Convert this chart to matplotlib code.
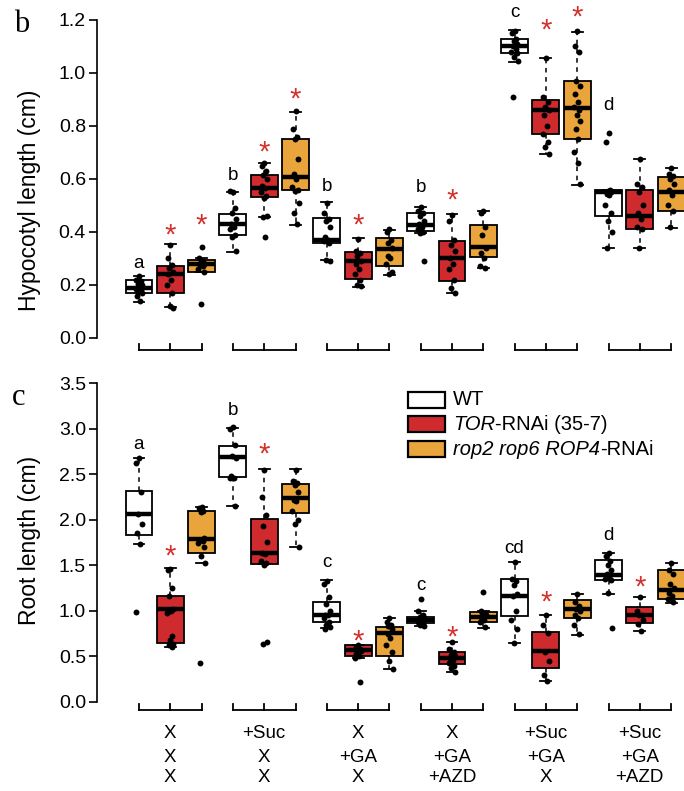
import matplotlib
matplotlib.use("Agg")
import matplotlib.pyplot as plt
from matplotlib.patches import Rectangle

plt.rcParams['font.family'] = ['Liberation Sans', 'DejaVu Sans']

# --- data -------------------------------------------------------------
# legend labels as (text, style) pieces: italic gene names, upright suffix
genotype_parts = [[('WT', 'normal')],
                  [('TOR', 'italic'), ('-RNAi (35-7)', 'normal')],
                  [('rop2 rop6 ROP4', 'italic'), ('-RNAi', 'normal')]]
geno_colors = ['white', '#cf2a2e', '#e9a43c']
treat_rows = [['X', 'X', 'X'], ['+Suc', 'X', 'X'], ['X', '+GA', 'X'],
              ['X', '+GA', '+AZD'], ['+Suc', '+GA', 'X'], ['+Suc', '+GA', '+AZD']]

# hypocotyl (panel b), 18 boxes: 6 treatments x 3 genotypes
hyp_q1 = [0.169, 0.171, 0.25, 0.389, 0.531, 0.558, 0.36, 0.221, 0.273,
          0.404, 0.215, 0.304, 1.074, 0.769, 0.75, 0.46, 0.41, 0.48]
hyp_med = [0.187, 0.24, 0.278, 0.43, 0.565, 0.606, 0.37, 0.29, 0.336,
           0.426, 0.30, 0.345, 1.10, 0.86, 0.867, 0.552, 0.46, 0.552]
hyp_q3 = [0.219, 0.273, 0.294, 0.468, 0.615, 0.751, 0.454, 0.326, 0.379,
          0.473, 0.366, 0.426, 1.127, 0.898, 0.97, 0.558, 0.558, 0.606]
hyp_lo = [0.137, 0.116, 0.25, 0.326, 0.458, 0.426, 0.294, 0.194, 0.238,
          0.395, 0.169, 0.263, 1.043, 0.694, 0.577, 0.338, 0.338, 0.416]
hyp_hi = [0.235, 0.353, 0.30, 0.55, 0.659, 0.854, 0.514, 0.376, 0.408,
          0.496, 0.467, 0.48, 1.162, 1.055, 1.156, 0.558, 0.674, 0.64]
hyp_pts = [
    [0.235, 0.22, 0.215, 0.205, 0.2, 0.19, 0.185, 0.185, 0.18, 0.175, 0.17, 0.16, 0.14],
    [0.35, 0.30, 0.275, 0.265, 0.25, 0.24, 0.22, 0.2, 0.17, 0.12, 0.115],
    [0.345, 0.30, 0.29, 0.285, 0.28, 0.275, 0.27, 0.26, 0.25, 0.13],
    [0.55, 0.555, 0.49, 0.47, 0.45, 0.43, 0.42, 0.41, 0.39, 0.38, 0.33],
    [0.66, 0.65, 0.63, 0.615, 0.6, 0.575, 0.565, 0.55, 0.535, 0.53, 0.46, 0.455, 0.38],
    [0.855, 0.79, 0.76, 0.75, 0.675, 0.62, 0.6, 0.57, 0.56, 0.555, 0.51, 0.47, 0.43],
    [0.51, 0.47, 0.45, 0.44, 0.42, 0.38, 0.37, 0.365, 0.36, 0.295, 0.29],
    [0.375, 0.33, 0.32, 0.31, 0.29, 0.28, 0.26, 0.24, 0.22, 0.2, 0.195],
    [0.41, 0.40, 0.37, 0.36, 0.34, 0.31, 0.30, 0.28, 0.25, 0.24],
    [0.495, 0.48, 0.47, 0.46, 0.44, 0.43, 0.42, 0.41, 0.40, 0.395, 0.29],
    [0.465, 0.44, 0.37, 0.35, 0.33, 0.30, 0.28, 0.26, 0.22, 0.19, 0.17],
    [0.48, 0.47, 0.42, 0.39, 0.34, 0.32, 0.30, 0.27, 0.265],
    [1.16, 1.15, 1.13, 1.12, 1.11, 1.10, 1.09, 1.08, 1.075, 1.06, 1.045, 0.91],
    [1.055, 0.91, 0.89, 0.87, 0.86, 0.84, 0.8, 0.77, 0.74, 0.72, 0.695],
    [1.16, 1.10, 1.08, 0.97, 0.95, 0.92, 0.89, 0.87, 0.86, 0.84, 0.82, 0.79, 0.75, 0.70, 0.66, 0.58],
    [0.775, 0.74, 0.56, 0.555, 0.55, 0.545, 0.54, 0.5, 0.47, 0.44, 0.40, 0.34],
    [0.675, 0.58, 0.57, 0.55, 0.5, 0.47, 0.45, 0.42, 0.41, 0.34],
    [0.64, 0.62, 0.61, 0.6, 0.58, 0.56, 0.54, 0.5, 0.48, 0.42],
]
hyp_letter_box = [0, 3, 6, 9, 12, 15]
hyp_letters = ['a', 'b', 'b', 'b', 'c', 'd']
hyp_letter_y = [0.263, 0.596, 0.556, 0.55, 1.21, 0.86]
hyp_star_box = [1, 2, 4, 5, 7, 10, 13, 14]
hyp_star_y = [0.423, 0.458, 0.735, 0.936, 0.46, 0.555, 1.194, 1.244]

# root (panel c)
root_q1 = [1.832, 0.644, 1.631, 2.465, 1.51, 2.07, 0.88, 0.505, 0.505,
           0.87, 0.417, 0.88, 0.944, 0.369, 0.918, 1.339, 0.863, 1.127]
root_med = [2.059, 1.017, 1.785, 2.685, 1.639, 2.235, 0.955, 0.57, 0.753,
            0.90, 0.486, 0.93, 1.163, 0.56, 1.017, 1.394, 0.955, 1.229]
root_q3 = [2.319, 1.163, 2.096, 2.809, 2.004, 2.388, 1.10, 0.625, 0.827,
           0.93, 0.552, 0.99, 1.346, 0.772, 1.119, 1.558, 1.046, 1.448]
root_lo = [1.734, 0.6, 1.52, 2.15, 1.51, 1.704, 0.81, 0.48, 0.358,
           0.83, 0.333, 0.81, 0.651, 0.234, 0.735, 1.19, 0.783, 1.083]
root_hi = [2.681, 1.467, 2.14, 3.003, 2.553, 2.553, 1.34, 0.625, 0.918,
           1.0, 0.662, 1.0, 1.54, 0.955, 1.19, 1.639, 1.148, 1.522]
root_pts = [
    [2.68, 2.62, 2.3, 2.06, 1.95, 1.85, 1.73, 0.99],
    [1.46, 1.45, 1.25, 1.16, 1.02, 1.01, 1.0, 0.98, 0.72, 0.68, 0.64, 0.62, 0.6],
    [2.14, 2.13, 2.1, 2.08, 1.8, 1.78, 1.77, 1.75, 1.7, 1.6, 1.52, 0.43],
    [3.02, 3.0, 2.82, 2.7, 2.68, 2.48, 2.46, 2.46, 2.15],
    [2.55, 2.25, 2.05, 1.93, 1.76, 1.64, 1.62, 1.55, 1.52, 1.5, 0.66, 0.64],
    [2.55, 2.42, 2.4, 2.38, 2.3, 2.22, 2.2, 2.1, 2.0, 1.95, 1.7],
    [1.33, 1.3, 1.15, 1.08, 1.0, 0.96, 0.95, 0.92, 0.88, 0.85, 0.82, 0.8],
    [0.62, 0.6, 0.58, 0.57, 0.56, 0.53, 0.5, 0.48, 0.22],
    [0.92, 0.88, 0.85, 0.83, 0.8, 0.75, 0.7, 0.62, 0.55, 0.45, 0.36],
    [1.13, 1.0, 0.95, 0.93, 0.92, 0.9, 0.89, 0.88, 0.87, 0.85, 0.83],
    [0.66, 0.58, 0.55, 0.52, 0.5, 0.48, 0.46, 0.43, 0.4, 0.37, 0.33],
    [1.21, 1.0, 0.98, 0.96, 0.95, 0.93, 0.9, 0.88, 0.82],
    [1.54, 1.35, 1.33, 1.28, 1.18, 1.16, 1.0, 0.9, 0.8, 0.65],
    [0.95, 0.85, 0.76, 0.55, 0.45, 0.3, 0.23],
    [1.19, 1.1, 1.05, 1.02, 1.0, 0.95, 0.92, 0.85, 0.75],
    [1.64, 1.6, 1.55, 1.5, 1.45, 1.4, 1.37, 1.35, 1.34, 1.2, 0.81],
    [1.15, 1.0, 0.96, 0.95, 0.9, 0.86, 0.78],
    [1.52, 1.45, 1.4, 1.3, 1.25, 1.2, 1.16, 1.13, 1.1],
]
root_letter_box = [0, 3, 6, 9, 12, 15]
root_letters = ['a', 'b', 'c', 'c', 'cd', 'd']
root_letter_y = [2.78, 3.15, 1.485, 1.229, 1.631, 1.778]
root_star_box = [1, 4, 7, 10, 13, 16]
root_star_y = [1.70, 2.82, 0.77, 0.808, 1.19, 1.357]

jitter = [0.0, -0.08, 0.06, -0.03, 0.09, -0.06, 0.03, -0.1, 0.07, -0.02, 0.1, -0.05, 0.04, -0.09, 0.02, 0.08]

# --- drawing ----------------------------------------------------------
W, H = 684, 791
fig = plt.figure(figsize=(W / 100, H / 100), dpi=100)
positions = list(range(1, 19))
x_left = 1 - 42 / 31.3
x_right = 1 + 545 / 31.3


def fig_rect(top_px, bottom_px):
    return [97 / W, 1 - bottom_px / H, 1 - 97 / W, (bottom_px - top_px) / H]


def panel(ax, q1, med, q3, lo, hi, pts, ymax, step,
          let_box, lets, let_y, star_box, star_y, br_y, br_top):
    stats = [dict(q1=a, med=m, q3=b, whislo=l, whishi=h, fliers=[])
             for a, m, b, l, h in zip(q1, med, q3, lo, hi)]
    bp = ax.bxp(stats, positions=positions, widths=0.86, patch_artist=True,
                showfliers=False, capwidths=0.35,
                boxprops=dict(edgecolor='black', linewidth=1.3),
                medianprops=dict(color='black', linewidth=3.2, solid_capstyle='butt'),
                whiskerprops=dict(color='black', linewidth=1.1, linestyle=(0, (3, 3))),
                capprops=dict(color='black', linewidth=1.3))
    for i, box in enumerate(bp['boxes']):
        box.set_facecolor(geno_colors[i % 3])
    for i, vals in enumerate(pts):
        xs = [positions[i] + jitter[k % len(jitter)] for k in range(len(vals))]
        ax.scatter(xs, vals, s=18, color='black', zorder=5, linewidths=0)
    for b, t, y in zip(let_box, lets, let_y):
        ax.text(positions[b], y, t, ha='center', va='baseline', fontsize=13.5)
    for b, y in zip(star_box, star_y):
        ax.annotate('*', (positions[b], y), xytext=(0, -12.5), textcoords='offset points',
                    ha='center', va='baseline', fontsize=21, color='#d3302c')
    for g in range(6):
        a, c = positions[3 * g], positions[3 * g + 2]
        ax.plot([a, c], [br_y, br_y], color='black', lw=1.3, clip_on=False)
        for p in (a, a + 1, c):
            ax.plot([p, p], [br_y, br_top], color='black', lw=1.3, clip_on=False)
    ax.set_xlim(x_left, x_right)
    for s in ('top', 'right', 'bottom'):
        ax.spines[s].set_visible(False)
    ax.spines['left'].set_bounds(0, ymax)
    ax.spines['left'].set_linewidth(1.2)
    ticks = [round(k * step, 2) for k in range(int(round(ymax / step)) + 1)]
    ax.set_yticks(ticks)
    ax.set_yticklabels([f'{t:.1f}' for t in ticks])
    ax.tick_params(axis='y', length=6, width=1.2, labelsize=14, pad=2)
    ax.set_xticks([])


ax_b = fig.add_axes(fig_rect(5, 355))
panel(ax_b, hyp_q1, hyp_med, hyp_q3, hyp_lo, hyp_hi, hyp_pts, 1.2, 0.2,
      hyp_letter_box, hyp_letters, hyp_letter_y,
      hyp_star_box, hyp_star_y, -0.0453, -0.0226)
ax_b.set_ylim((338 - 355) / 265, (338 - 5) / 265)

ax_c = fig.add_axes(fig_rect(370, 715))
panel(ax_c, root_q1, root_med, root_q3, root_lo, root_hi, root_pts, 3.5, 0.5,
      root_letter_box, root_letters, root_letter_y,
      root_star_box, root_star_y, -0.0878, -0.022)
ax_c.set_ylim((702 - 715) / 91.14, (702 - 370) / 91.14)

# treatment labels under the lower panel
row_y = [(702 - 733) / 91.14, (702 - 757) / 91.14, (702 - 778) / 91.14]
for g, rows in enumerate(treat_rows):
    for r, txt in enumerate(rows):
        ax_c.text(positions[3 * g + 1], row_y[r], txt, ha='center', va='center',
                  fontsize=13.5, clip_on=False)

fig.text(30 / W, 1 - 200 / H, 'Hypocotyl length (cm)', rotation=90,
         ha='center', va='center', fontsize=16.5)
fig.text(30 / W, 1 - 540 / H, 'Root length (cm)', rotation=90,
         ha='center', va='center', fontsize=16.5)

fig.text(14 / W, 1 - 32 / H, 'b', family='Liberation Serif', fontsize=22)
fig.text(12 / W, 1 - 405 / H, 'c', family='Liberation Serif', fontsize=22)

# legend drawn by hand so that gene names can be italic
renderer = fig.canvas.get_renderer()
row_centres = [400, 424, 449]
for parts, col, yc in zip(genotype_parts, geno_colors, row_centres):
    fig.patches.append(Rectangle((408 / W, 1 - (yc + 8) / H), 37 / W, 16 / H,
                                 transform=fig.transFigure, facecolor=col,
                                 edgecolor='black', linewidth=1.6))
    x = 453
    for txt, style in parts:
        t = fig.text(x / W, 1 - yc / H, txt, style=style, fontsize=14.5,
                     ha='left', va='center')
        x += t.get_window_extent(renderer).width

fig.savefig('out.png', dpi=100, facecolor='white')
